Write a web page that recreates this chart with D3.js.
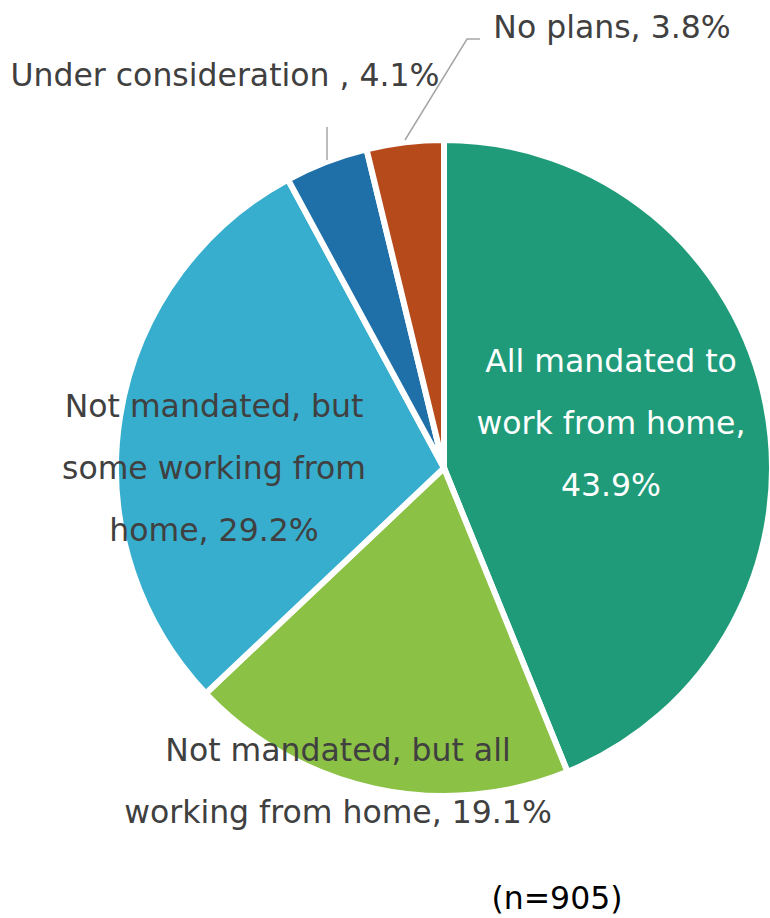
<!DOCTYPE html>
<html><head><meta charset="utf-8">
<script src="https://cdn.jsdelivr.net/npm/d3@7"></script>
<style>html,body{margin:0;padding:0;background:#fff;}</style>
</head><body>
<svg id="chart" width="770" height="918"></svg>
<script>
const categories = ["All mandated to work from home", "Not mandated, but all working from home", "Not mandated, but some working from home", "Under consideration", "No plans"];
const values = [43.9, 19.1, 29.2, 4.1, 3.8];
const colors = ["#1F9B79", "#8BC145", "#37AECE", "#1F6FA8", "#B74A1A"];
const labelLines = [
  ["All mandated to", "work from home,", "43.9%"],
  ["Not mandated, but all", "working from home, 19.1%"],
  ["Not mandated, but", "some working from", "home, 29.2%"],
  ["Under consideration , 4.1%"],
  ["No plans, 3.8%"]
];
const note = "(n=905)";

const svg = d3.select("#chart");
const cx = 444, cy = 468, r = 328;
const font = "'DejaVu Sans', Verdana, sans-serif";
const fs = 31.5;

const pie = d3.pie().sort(null).value(d => d)(values);
const arc = d3.arc().innerRadius(0).outerRadius(r);
const g = svg.append("g").attr("transform", `translate(${cx},${cy})`);
g.selectAll("path").data(pie).join("path")
  .attr("d", arc)
  .attr("fill", (d, i) => colors[i])
  .attr("stroke", "#fff").attr("stroke-width", 6).attr("stroke-linejoin", "miter");

// leader lines
svg.append("path").attr("d", "M327,160 L327,127").attr("stroke", "#A6A6A6").attr("stroke-width", 1.5).attr("fill", "none");
svg.append("path").attr("d", "M405,140 L467,39 L480,39").attr("stroke", "#A6A6A6").attr("stroke-width", 1.5).attr("fill", "none");

const anchors = [
  {x: 611, y: 372, c: "#fff"},
  {x: 338, y: 761, c: "#404040"},
  {x: 214, y: 417, c: "#404040"},
  {x: 225, y: 86, c: "#404040"},
  {x: 612, y: 38, c: "#404040"}
];
const lh = 62;
labelLines.forEach((lines, i) => {
  const a = anchors[i];
  const t = svg.append("text").attr("text-anchor", "middle")
    .attr("font-family", font).attr("font-size", fs).attr("fill", a.c);
  lines.forEach((ln, j) => {
    t.append("tspan").attr("x", a.x).attr("y", a.y + j * lh).text(ln);
  });
});

svg.append("text").attr("x", 557).attr("y", 909).attr("text-anchor", "middle")
  .attr("font-family", font).attr("font-size", fs).attr("fill", "#000").text(note);
</script>
</body></html>
